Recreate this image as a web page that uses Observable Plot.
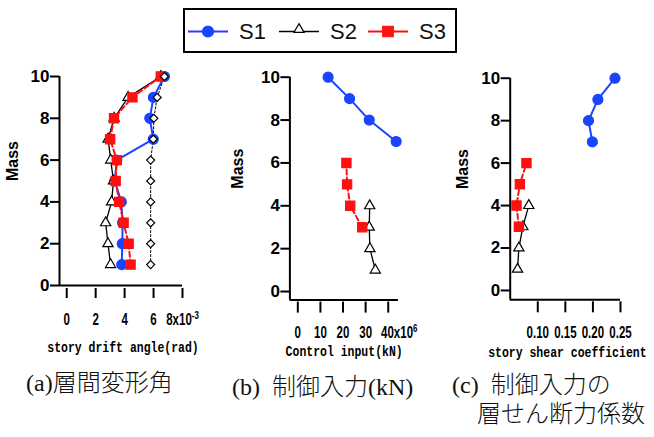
<!DOCTYPE html>
<html><head><meta charset="utf-8">
<script src="https://cdn.jsdelivr.net/npm/d3@7"></script>
<script src="https://cdn.jsdelivr.net/npm/@observablehq/plot@0.6"></script>
<style>
body{margin:0;background:#fff;}
#root{position:relative;width:654px;height:437px;overflow:hidden;background:#fff;}
.cap{position:absolute;font-family:"Liberation Serif","Noto Sans CJK JP",serif;font-size:24px;font-weight:300;color:#111;white-space:nowrap;line-height:24px;}
</style></head><body><div id="root"></div>
<script>
// ---- data ----
const floors = [1,2,3,4,5,6,7,8,9,10];
const seriesNames = ["S1","S2","S3"];
// (a) story drift angle (x10^-3 rad)
const driftS1 = [3.80,3.84,3.86,3.77,3.32,3.46,5.98,5.74,5.99,6.75];
const driftS2 = [3.03,2.85,2.69,3.10,3.23,3.04,2.86,3.27,4.24,6.50];
const driftS3 = [4.41,4.28,3.93,3.62,3.38,3.46,3.00,3.27,4.54,6.50];
const driftUncontrolled = [5.80,5.80,5.80,5.80,5.80,5.80,5.98,6.02,6.25,6.75];
// floors that carry a controller in each scenario
const floorsS1 = [7,8,9,10];
const floorsS2 = [1,2,3,4];
const floorsS3 = [3,4,5,6];
// (b) control input (x10^6 kN)
const inputS1 = [43.5,31.6,22.9,13.4];
const inputS2 = [34.3,31.9,31.6,31.8];
const inputS3 = [28.5,23.2,21.8,21.5];
// (c) story shear coefficient
const shearS1 = [0.199,0.192,0.209,0.240];
const shearS2 = [0.0633,0.0657,0.0729,0.0837];
const shearS3 = [0.0657,0.0614,0.0675,0.0795];
// ticks
const yTicks = [0,2,4,6,8,10];
const xTicksA = [0,2,4,6,8];
const xTicksB = [0,10,20,30,40];
const xTicksC = [0.10,0.15,0.20,0.25];

// ---- styles ----
const BLUE = "#1a45ff", RED = "#ff1010";
const sty = {
  S1: {stroke: BLUE, strokeWidth: 2, symbol: "circle", fill: BLUE, dotStroke: BLUE, r: 5},
  S2: {stroke: "#000", strokeWidth: 1.3, symbol: "triangle", fill: "white", dotStroke: "#000", r: 3.8},
  S3: {stroke: RED, strokeWidth: 2, dash: "5,3", symbol: "square", fill: RED, dotStroke: RED, r: 5.2},
  U:  {stroke: "#000", strokeWidth: 1, dash: "2,2", symbol: "diamond2", fill: "white", dotStroke: "#000", r: 3.6}
};
const rows = (fl, vals) => fl.map((f, i) => ({floor: f, value: vals[i]}));

const TICKFONT = "'Liberation Sans',Arial,sans-serif";
const YFONT = "'Liberation Sans',Arial,sans-serif";
const TITLEFONT = "'Liberation Mono','DejaVu Sans Mono',monospace";

function squeeze(el, s, shift = 0) {
  const tr = el.getAttribute("transform");
  if (tr) el.setAttribute("transform", `translate(${shift},0) ` + tr + ` scale(${s},1)`);
  else {
    const x = +el.getAttribute("x") || 0, y = +el.getAttribute("y") || 0;
    el.setAttribute("transform", `translate(${x + shift},${y}) scale(${s},1) translate(${-x},${-y})`);
  }
}

function panel(cfg) {
  const marks = [
    Plot.ruleY([cfg.yDomain[0]], {stroke: "#000", strokeWidth: 2}),
    Plot.ruleX([cfg.xDomain[0]], {stroke: "#000", strokeWidth: 2}),
    Plot.axisY(yTicks, {tickSize: 9, tickPadding: 1, strokeWidth: 2, fontSize: 17, fontWeight: "bold", fontFamily: YFONT, label: null}),
    Plot.axisX(cfg.xTicks, {tickFormat: cfg.xFormat, tickSize: cfg.tickSize, tickPadding: cfg.tickPadding, dy: cfg.tickDy, strokeWidth: 2, fontSize: 16, fontWeight: "bold", fontFamily: TICKFONT, label: null})
  ];
  for (const s of cfg.series) {
    const st = sty[s.key];
    marks.push(Plot.line(s.data, {x: "value", y: "floor", stroke: st.stroke, strokeWidth: st.strokeWidth, strokeDasharray: st.dash}));
  }
  for (const s of cfg.series) {
    const st = sty[s.key];
    marks.push(Plot.dot(s.data, {x: "value", y: "floor", symbol: () => st.symbol, r: st.r, fill: st.fill, stroke: st.dotStroke, strokeWidth: 1.2}));
  }
  marks.push(Plot.text([cfg.xTitle], {text: d => d, frameAnchor: "bottom", dy: cfg.titleDy, dx: cfg.titleDx || 0, fontFamily: TITLEFONT, fontSize: 14, fontWeight: "bold", fill: "#000"}));
  marks.push(Plot.text(["Mass"], {text: d => d, frameAnchor: "left", rotate: -90, dx: cfg.massDx, fontFamily: YFONT, fontSize: 16, fontWeight: "bold", fill: "#000"}));
  const svg = Plot.plot({
    width: cfg.width, height: cfg.height,
    marginLeft: cfg.ml, marginRight: cfg.mr, marginTop: cfg.mt, marginBottom: cfg.mb,
    style: {background: "transparent", overflow: "visible", color: "#000"},
    x: {domain: cfg.xDomain, label: null},
    y: {domain: cfg.yDomain, label: null},
    symbol: {type: "identity"},
    marks
  });
  const sel = d3.select(svg);
  // condensed x tick labels with superscript exponents
  sel.selectAll("g[aria-label='x-axis tick label'] text").each(function() {
    const t = this.textContent;
    let shift = 0;
    if (t.includes("|")) {
      const [base, exp] = t.split("|");
      const el = d3.select(this);
      el.text(base);
      el.append("tspan").attr("font-size", 11).attr("dy", "-0.55em").text(exp);
      shift = cfg.expShift || 0;
    }
    squeeze(this, 0.72, shift);
  });
  sel.selectAll("text").each(function() {
    if (this.textContent === cfg.xTitle) squeeze(this, 0.82);
  });
  svg.style.position = "absolute";
  svg.style.left = cfg.left + "px";
  svg.style.top = "56px";
  return svg;
}

const root = document.getElementById("root");

root.appendChild(panel({
  left: 0, width: 215, height: 310, ml: 59, mr: 33, mt: 20, mb: 81,
  xDomain: [-0.5, 8], yDomain: [0, 10],
  xTicks: xTicksA, xFormat: d => d === 8 ? "8x10|-3" : String(d),
  tickSize: 10, tickPadding: 15, tickDy: 3, expShift: 0,
  xTitle: "story drift angle(rad)", titleDy: 66, titleDx: 2, massDx: -46.5,
  series: [
    {key: "S1", data: rows(floors, driftS1)},
    {key: "S2", data: rows(floors, driftS2)},
    {key: "S3", data: rows(floors, driftS3)},
    {key: "U", data: rows(floors, driftUncontrolled)}
  ]
}));

root.appendChild(panel({
  left: 215, width: 220, height: 310, ml: 74.4, mr: 37.1, mt: 20.7, mb: 66.4,
  xDomain: [-3.5, 44.5], yDomain: [-0.4, 10],
  xTicks: xTicksB, xFormat: d => d === 40 ? "40x10|6" : String(d),
  tickSize: 11, tickPadding: 14, tickDy: 2, expShift: 11,
  xTitle: "Control input(kN)", titleDy: 56, massDx: -51.8,
  series: [
    {key: "S1", data: rows(floorsS1, inputS1)},
    {key: "S2", data: rows(floorsS2, inputS2)},
    {key: "S3", data: rows(floorsS3, inputS3)}
  ]
}));

root.appendChild(panel({
  left: 435, width: 219, height: 310, ml: 74.7, mr: 34, mt: 21.7, mb: 66.7,
  xDomain: [0.05, 0.25], yDomain: [-0.44, 10],
  xTicks: xTicksC, xFormat: d3.format(".2f"),
  tickSize: 11, tickPadding: 14, tickDy: 2,
  xTitle: "story shear coefficient", titleDy: 56.7, titleDx: 2, massDx: -47.2,
  series: [
    {key: "S1", data: rows(floorsS1, shearS1)},
    {key: "S2", data: rows(floorsS2, shearS2)},
    {key: "S3", data: rows(floorsS3, shearS3)}
  ]
}));

// ---- legend ----
const leg = d3.create("svg").attr("width", 654).attr("height", 56)
  .style("position", "absolute").style("left", "0px").style("top", "0px");
leg.append("rect").attr("x", 184).attr("y", 9).attr("width", 272).attr("height", 43)
  .attr("fill", "white").attr("stroke", "#000").attr("stroke-width", 2);
const legX = [188, 279, 368];
const legSize = {S1: 95, S2: 45, S3: 110};
seriesNames.forEach((name, i) => {
  const st = sty[name];
  const x0 = legX[i], cy = 31.5;
  leg.append("line").attr("x1", x0).attr("x2", x0 + 40).attr("y1", cy).attr("y2", cy)
    .attr("stroke", st.stroke).attr("stroke-width", name === "S2" ? 1.5 : 2);
  const sym = {circle: d3.symbolCircle, triangle: d3.symbolTriangle, square: d3.symbolSquare}[st.symbol];
  leg.append("path").attr("d", d3.symbol(sym, legSize[name])())
    .attr("transform", `translate(${x0 + 20},${name === "S2" ? cy - 2 : cy})`)
    .attr("fill", st.fill).attr("stroke", st.dotStroke).attr("stroke-width", 1.2);
  leg.append("text").attr("x", x0 + 51).attr("y", cy).attr("dy", "0.35em")
    .attr("font-family", "'Liberation Sans',Arial,sans-serif").attr("font-size", 22)
    .attr("fill", "#111").text(name);
});
root.appendChild(leg.node());

// ---- captions ----
const captions = [
  {text: "(a)層間変形角", left: 26, top: 371},
  {text: "(b)\u2002制御入力(kN)", left: 232, top: 375},
  {text: "(c)\u2002制御入力の", left: 452, top: 373},
  {text: "層せん断力係数", left: 477, top: 402}
];
for (const c of captions) {
  const d = document.createElement("div");
  d.className = "cap";
  d.style.left = c.left + "px";
  d.style.top = c.top + "px";
  d.textContent = c.text;
  root.appendChild(d);
}
</script></body></html>
